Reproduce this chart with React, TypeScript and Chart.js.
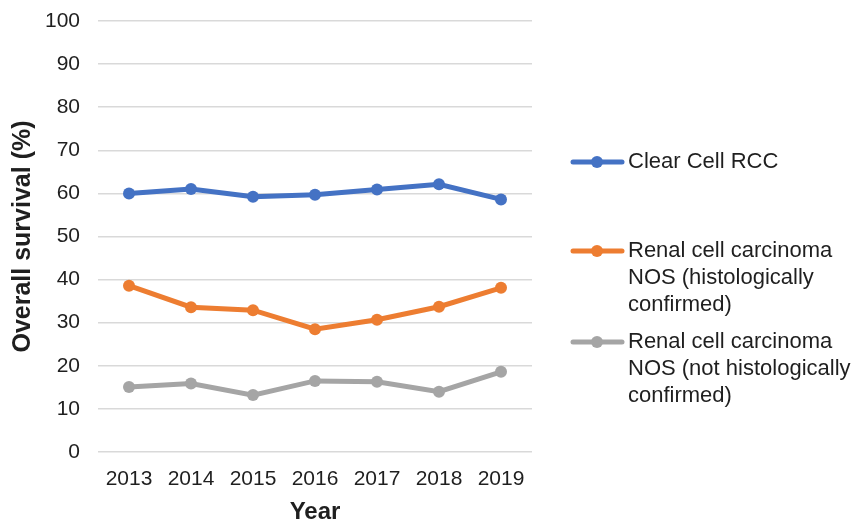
import { useEffect, useRef } from "react";
import { Chart, registerables } from "chart.js";

Chart.register(...registerables);

const years = ["2013", "2014", "2015", "2016", "2017", "2018", "2019"];
const clearCell = [60.0, 61.0, 59.2, 59.7, 60.9, 62.1, 58.6];
const nosHisto = [38.6, 33.6, 32.9, 28.5, 30.7, 33.7, 38.1];
const nosNotHisto = [15.1, 15.9, 13.2, 16.5, 16.3, 14.0, 18.6];

const legendClear = ["Clear Cell RCC"];
const legendHisto = ["Renal cell carcinoma", "NOS (histologically", "confirmed)"];
const legendNot = ["Renal cell carcinoma", "NOS (not histologically", "confirmed)"];

const yTitle = "Overall survival (%)";
const xTitle = "Year";
const yMin = 0;
const yMax = 100;
const yStep = 10;

const FONT = "'Liberation Sans', Arial, Helvetica, sans-serif";
const TEXT = "#1f1f1f";

const legendPlugin = {
  id: "sideLegend",
  afterDraw(chart: any) {
    const ctx = chart.ctx;
    const rows = [162, 251, 342];
    chart.data.datasets.forEach((ds: any, i: number) => {
      const y = rows[i];
      ctx.save();
      ctx.strokeStyle = ds.borderColor;
      ctx.lineWidth = 5;
      ctx.lineCap = "round";
      ctx.beginPath();
      ctx.moveTo(573, y);
      ctx.lineTo(622, y);
      ctx.stroke();
      ctx.fillStyle = ds.borderColor;
      ctx.beginPath();
      ctx.arc(597, y, 6, 0, Math.PI * 2);
      ctx.fill();
      ctx.fillStyle = TEXT;
      ctx.font = `22px ${FONT}`;
      ctx.textBaseline = "middle";
      ctx.textAlign = "left";
      (ds.legendLines as string[]).forEach((t, j) => ctx.fillText(t, 628, y + j * 27));
      ctx.restore();
    });
  },
};

export default function App() {
  const ref = useRef<HTMLCanvasElement | null>(null);

  useEffect(() => {
    if (!ref.current) return;
    const mk = (label: string[], data: number[], color: string) => ({
      label: label.join(" "),
      legendLines: label,
      data,
      borderColor: color,
      backgroundColor: color,
      borderWidth: 5,
      pointRadius: 6,
      pointBorderWidth: 0,
      pointBackgroundColor: color,
      tension: 0,
      fill: false,
    });
    const chart = new Chart(ref.current, {
      type: "line",
      data: {
        labels: years,
        datasets: [
          mk(legendClear, clearCell, "#4472C4"),
          mk(legendHisto, nosHisto, "#ED7D31"),
          mk(legendNot, nosNotHisto, "#A5A5A5"),
        ] as any,
      },
      options: {
        animation: false,
        responsive: true,
        maintainAspectRatio: false,
        layout: { padding: { left: 0, top: 21, right: 327, bottom: 0 } },
        plugins: { legend: { display: false }, tooltip: { enabled: false } },
        scales: {
          x: {
            offset: true,
            grid: { display: false, drawTicks: false },
            border: { display: false },
            ticks: { color: TEXT, font: { family: FONT, size: 21 }, padding: 15, maxRotation: 0 },
            title: {
              display: true,
              text: xTitle,
              color: TEXT,
              font: { family: FONT, size: 24, weight: "bold", lineHeight: 1 },
              padding: { top: 0, bottom: 1 },
            },
            afterFit: (s: any) => {
              s.height = 73;
              s.paddingLeft = 0;
              s.paddingRight = 0;
            },
          },
          y: {
            min: yMin,
            max: yMax,
            grid: { color: "#d9d9d9", lineWidth: 1.5, drawTicks: false },
            border: { display: false },
            ticks: { stepSize: yStep, color: TEXT, font: { family: FONT, size: 21 }, padding: 18 },
            title: {
              display: true,
              text: yTitle,
              color: TEXT,
              font: { family: FONT, size: 25, weight: "bold", lineHeight: 1.2 },
              padding: { top: 8, bottom: 0 },
            },
            afterFit: (s: any) => {
              s.width = 98;
              s.paddingTop = 0;
              s.paddingBottom = 0;
            },
          },
        },
      } as any,
      plugins: [legendPlugin],
    });
    return () => chart.destroy();
  }, []);

  return (
    <div style={{ position: "fixed", left: 0, top: 0, width: 859, height: 525, background: "#fff" }}>
      <canvas ref={ref} />
    </div>
  );
}
